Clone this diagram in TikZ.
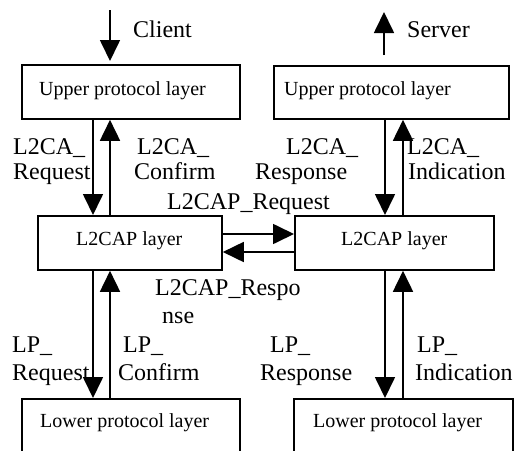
\documentclass[tikz,border=0pt]{standalone}
\usepackage{fontspec}
\setmainfont{Liberation Serif}
\usetikzlibrary{arrows.meta}
\tikzset{
  layerbox/.style={draw, line width=1.8pt, inner sep=0pt, anchor=north west},
  boxtext/.style={font=\fontsize{20}{24}\selectfont, anchor=base west, inner sep=0pt},
  primtext/.style={font=\fontsize{24}{28}\selectfont, anchor=base west, inner sep=0pt},
  flow/.style={line width=1.7pt, -{Triangle[length=21pt,width=20pt]}},
}
\begin{document}
\begin{tikzpicture}[x=1pt,y=-1pt]
\useasboundingbox (0,0) rectangle (519,450);
\clip (0,0) rectangle (519,450);
\fill[white] (0,0) rectangle (519,450);

% layer boxes (the lower ones run past the bottom edge)
\node[layerbox, minimum width=218pt, minimum height=54pt] (ul)  at (21,64)  {};
\node[layerbox, minimum width=235pt, minimum height=53pt] (ur)  at (273,65) {};
\node[layerbox, minimum width=184pt, minimum height=54pt] (l2l) at (37,215) {};
\node[layerbox, minimum width=199pt, minimum height=54pt] (l2r) at (294,215) {};
\node[layerbox, minimum width=218pt, minimum height=80pt] (ll)  at (21,398) {};
\node[layerbox, minimum width=219pt, minimum height=80pt] (lr)  at (293,398) {};

% box captions
\node[boxtext] (ult)  at (39,95)   {Upper protocol layer};
\node[boxtext] (urt)  at (284,95)  {Upper protocol layer};
\node[boxtext] (l2lt) at (76,245)  {L2CAP layer};
\node[boxtext] (l2rt) at (341,245) {L2CAP layer};
\node[boxtext] (llt)  at (40,427)  {Lower protocol layer};
\node[boxtext] (lrt)  at (313,427) {Lower protocol layer};

% helper coordinates for the arrow columns and rows
\coordinate (xa) at (93,0);
\coordinate (xb) at (110,0);
\coordinate (xc) at (385,0);
\coordinate (xd) at (403,0);
\coordinate (ya) at (0,234);
\coordinate (yb) at (0,252);
\coordinate (cin)  at (110,10);
\coordinate (sout) at (384,12);

% client entry and server exit
\draw[flow, shorten >=3pt] (cin) -- (cin |- ul.north);
\draw[flow, shorten <=10pt] (sout |- ur.north) -- (sout);
\node[primtext] (client) at (133,37) {Client};
\node[primtext] (server) at (407,37) {Server};

% upper <-> L2CAP
\draw[flow] (ul.south -| xa) -- (l2l.north -| xa);
\draw[flow] (l2l.north -| xb) -- (ul.south -| xb);
\draw[flow] (ur.south -| xc) -- (l2r.north -| xc);
\draw[flow] (l2r.north -| xd) -- (ur.south -| xd);

% L2CAP peer exchange
\draw[flow] (l2l.east |- ya) -- (l2r.west |- ya);
\draw[flow] (l2r.west |- yb) -- (l2l.east |- yb);

% L2CAP <-> lower
\draw[flow] (l2l.south -| xa) -- (ll.north -| xa);
\draw[flow] (ll.north -| xb) -- (l2l.south -| xb);
\draw[flow] (l2r.south -| xc) -- (lr.north -| xc);
\draw[flow] (lr.north -| xd) -- (l2r.south -| xd);

% primitive labels
\node[primtext] (rq1) at (13,154)  {L2CA\_};
\node[primtext] (rq2) at (13,179)  {Request};
\node[primtext] (cf1) at (137,154) {L2CA\_};
\node[primtext] (cf2) at (134,179) {Confirm};
\node[primtext] (rs1) at (286,154) {L2CA\_};
\node[primtext] (rs2) at (255,179) {Response};
\node[primtext] (in1) at (407,154) {L2CA\_};
\node[primtext] (in2) at (408,179) {Indication};
\node[primtext] (preq) at (167,209) {L2CAP\_Request};
\node[primtext] (prs1) at (155,295) {L2CAP\_Respo};
\node[primtext] (prs2) at (162,323) {nse};

\node[primtext] (lrq1) at (12,352)  {LP\_};
\node[primtext] (lrq2) at (12,380)  {Request};
\node[primtext] (lcf1) at (123,352) {LP\_};
\node[primtext] (lcf2) at (118,380) {Confirm};
\node[primtext] (lrs1) at (270,352) {LP\_};
\node[primtext] (lrs2) at (260,380) {Response};
\node[primtext] (lin1) at (417,352) {LP\_};
\node[primtext] (lin2) at (415,380) {Indication};
\end{tikzpicture}
\end{document}
